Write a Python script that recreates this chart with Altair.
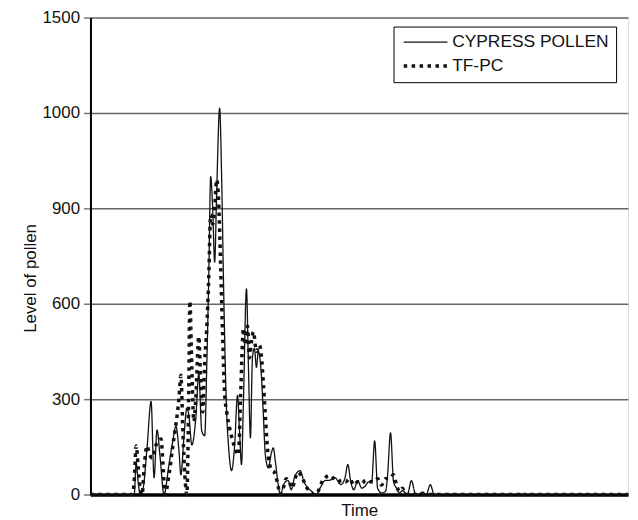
import altair as alt
import pandas as pd

series_names = ["CYPRESS POLLEN", "TF-PC"]
y_tick_values = [0, 300, 600, 900, 1200, 1500]

cypress_day = [0, 44, 46, 48, 50, 53, 57, 61, 64, 67, 70, 74, 79, 83, 86, 89, 91, 94, 97, 99,
               102, 106, 109, 112, 115, 117, 119, 121, 123, 125, 127, 130, 132, 134, 137, 139,
               142, 145, 148, 150, 152, 154, 157, 159, 161, 163, 165, 167, 169, 172, 174, 176,
               179, 182, 184, 186, 189, 191, 195, 199, 202, 206, 211, 215, 219, 222, 227, 231,
               236, 241, 246, 252, 256, 259, 262, 265, 269, 273, 276, 280, 283, 286, 289, 293,
               297, 299, 302, 305, 308, 311, 314, 317, 319, 323, 327, 330, 334, 338, 342, 346, 541]
cypress_level = [0, 0, 100, 40, 0, 20, 150, 293, 53, 203, 120, 0, 94, 170, 215, 140, 62, 178, 272, 250,
                 156, 240, 380, 200, 185, 400, 678, 1000, 900, 731, 950, 1215, 1000, 650, 262, 150,
                 75, 150, 312, 200, 94, 300, 647, 400, 178, 430, 460, 400, 450, 375, 250, 125,
                 84, 130, 147, 106, 30, 0, 35, 44, 15, 60, 75, 40, 20, 12, 0, 20,
                 44, 45, 53, 31, 50, 94, 40, 15, 44, 20, 25, 40, 40, 169, 20, 5,
                 10, 60, 194, 40, 20, 5, 12, 5, 0, 44, 3, 0, 8, 0, 31, 0, 0]

tfpc_day = [0, 42, 44, 46, 48, 50, 52, 54, 57, 59, 62, 66, 69, 71, 73, 75, 79, 83, 86, 89,
            91, 93, 95, 97, 99, 100, 102, 104, 106, 109, 111, 113, 115, 117, 119, 121, 123, 125,
            127, 129, 131, 133, 135, 137, 140, 143, 146, 149, 151, 154, 156, 158, 160, 162, 164,
            167, 170, 172, 174, 176, 178, 180, 182, 185, 188, 191, 194, 197, 200, 203, 206, 209,
            212, 215, 218, 221, 225, 229, 233, 237, 241, 245, 249, 253, 257, 261, 265, 269, 273,
            277, 281, 285, 289, 293, 297, 301, 305, 308, 311, 314, 317, 433, 434, 435, 541]
tfpc_level = [0, 0, 40, 153, 90, 20, 0, 84, 153, 130, 115, 156, 170, 175, 94, 0, 62, 156, 220, 300,
              375, 200, 60, 0, 350, 609, 400, 230, 300, 497, 350, 260, 420, 520, 680, 880, 850, 900,
              990, 920, 720, 500, 320, 262, 210, 170, 140, 125, 300, 522, 470, 530, 430, 480, 512,
              450, 470, 437, 350, 250, 150, 100, 80, 70, 40, 0, 20, 50, 40, 20, 50, 70,
              60, 40, 20, 10, 0, 10, 40, 55, 60, 50, 40, 45, 40, 50, 30, 40, 35,
              45, 40, 40, 50, 30, 50, 50, 62, 30, 10, 20, 0, 0, 6, 0, 0]

df = pd.concat([
    pd.DataFrame({"day": cypress_day, "level": cypress_level, "series": series_names[0]}),
    pd.DataFrame({"day": tfpc_day, "level": tfpc_level, "series": series_names[1]}),
], ignore_index=True)

FONT = "Liberation Sans"

chart = alt.Chart(df).mark_line(interpolate="monotone", strokeCap="butt").encode(
    x=alt.X("day:Q",
            scale=alt.Scale(domain=[0, 541], nice=False, zero=False),
            axis=alt.Axis(title="Time", labels=False, ticks=False, grid=False,
                          domainColor="black", domainWidth=3.5,
                          titleFont=FONT, titleFontSize=17, titleFontWeight="normal",
                          titleColor="#111", titleBaseline="middle", titleY=16)),
    y=alt.Y("level:Q",
            scale=alt.Scale(domain=[0, 1500], nice=False),
            axis=alt.Axis(title="Level of pollen", values=y_tick_values,
                          labelExpr="datum.value == 1200 ? '1000' : format(datum.value, 'd')",
                          domainColor="black", domainWidth=2,
                          tickColor="#777", tickSize=7, tickWidth=1.5,
                          labelFont=FONT, labelFontSize=17, labelColor="#111", labelPadding=4,
                          grid=True, gridColor="#666", gridWidth=1.5,
                          titleFont=FONT, titleFontSize=17, titleFontWeight="normal",
                          titleColor="#111", titleBaseline="middle", titleX=-60, titleY=262)),
    color=alt.Color("series:N",
                    scale=alt.Scale(domain=series_names, range=["#111111", "#111111"]),
                    legend=alt.Legend(title=None, orient="none", legendX=305, legendY=9,
                                      symbolType="M-4,0H4", symbolSize=121, symbolOffset=16.5,
                                      labelFont=FONT, labelFontSize=17.5, labelColor="#111",
                                      labelOffset=18, rowPadding=5, padding=7,
                                      strokeColor="black", fillColor="white")),
    strokeDash=alt.StrokeDash("series:N",
                              scale=alt.Scale(domain=series_names, range=[[1, 0], [3.5, 4.5]])),
    strokeWidth=alt.StrokeWidth("series:N",
                                scale=alt.Scale(domain=series_names, range=[1.3, 3.5])),
).properties(
    width=541,
    height=480,
    autosize=alt.AutoSizeParams(type="none"),
    padding={"left": 83, "top": 8, "right": 2, "bottom": 28},
).configure_view(
    stroke="black", strokeWidth=2
).configure(background="white")

chart.save("out.html", embed_options={"renderer": "svg", "actions": False})
